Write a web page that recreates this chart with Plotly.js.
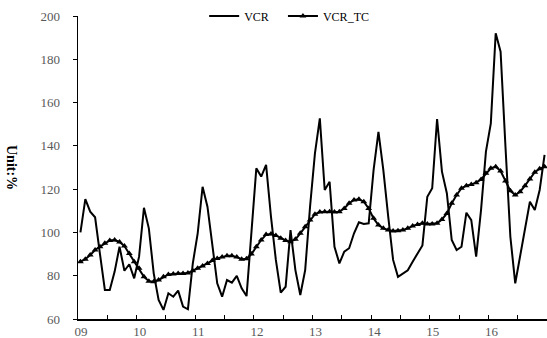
<!DOCTYPE html>
<html>
<head>
<meta charset="utf-8">
<script src="https://cdn.plot.ly/plotly-3.0.1.min.js"></script>
<style>html,body{margin:0;padding:0;background:#fff;}#chart{width:547px;height:338px;}</style>
</head>
<body>
<div id="chart"></div>
<script>
// Monthly observations, Jan 2009 .. Dec 2016
var yearLabels = ['09','10','11','12','13','14','15','16'];
var seriesNames = ['VCR', 'VCR_TC'];

var vcr = [
  100, 115.4, 109.6, 107, 90, 73.4, 73.4, 81.9, 93.4, 82.3, 85.3, 78.8,
  88.8, 111.4, 101.9, 81.1, 68.8, 64.2, 71.9, 70.3, 73.1, 65.7, 64.5, 85.7,
  99.6, 121.1, 111.9, 93.4, 76.5, 70.3, 78, 76.8, 79.9, 74.2, 70.6, 100,
  129.6, 125.8, 131.2, 107.3, 87.3, 72.2, 74.9, 101.1, 82.6, 71.1, 82.6, 111.9,
  136.5, 152.7, 119.6, 123.4, 93.4, 85.7, 91.1, 92.7, 99.6, 104.7, 103.9, 104.2,
  128.8, 146.5, 128.8, 107.3, 87.3, 79.5, 81, 82.5, 86.5, 90.5, 94, 116.5,
  120.4, 152.4, 128.1, 118.1, 96.5, 91.9, 93.4, 109.1, 105.7, 88.8, 110.4, 137.3,
  150.4, 192, 183.5, 139.6, 98, 76.5, 89.6, 102.6, 114.2, 110.4, 119.6, 135.8
];

var vcrTC = [
  86.5, 87.6, 89.6, 91.9, 93.4, 95, 96.3, 96.5, 95.6, 93.7, 90.3, 86.5,
  83.4, 79.5, 77.5, 77.2, 78, 79.5, 80.6, 80.8, 81, 81, 81.2, 82.3,
  83.4, 84.5, 85.7, 87, 88, 88.6, 89.2, 89.2, 88.6, 87.6, 87.8, 90,
  93.4, 96.5, 99, 99.3, 98.6, 97.3, 96.3, 95.7, 96.8, 99.6, 102.6, 105.7,
  108.4, 109.4, 109.6, 109.6, 109.4, 109.6, 111.1, 113.5, 115, 115.3, 114.2, 111.1,
  106.5, 103.4, 101.9, 101.1, 100.7, 100.8, 101.1, 101.9, 103, 103.7, 104.2, 103.9,
  103.9, 104.2, 106, 108.8, 113.5, 117.3, 120.4, 121.6, 122.2, 123, 124.5, 127.3,
  129.6, 130.4, 128.4, 123.8, 119.2, 117.3, 118.8, 121.6, 124.7, 127.8, 129.4, 130.4
];

var monthIndex = vcr.map(function(_, i){ return i; });
var yearTicks = yearLabels.map(function(_, k){ return k*12 - 0.5; });

var traces = [
  {x: monthIndex, y: vcr, name: seriesNames[0], type: 'scatter', mode: 'lines',
   line: {color: '#000', width: 2}, legend: 'legend'},
  {x: monthIndex, y: vcrTC, name: seriesNames[1], type: 'scatter', mode: 'lines+markers',
   line: {color: '#000', width: 2},
   marker: {symbol: 'triangle-up', size: 6, color: '#000'}, legend: 'legend2'}
];

var tickFont = {family: 'Liberation Serif, serif', size: 13, color: '#595959'};
var legendFont = {family: 'Liberation Serif, serif', size: 12, color: '#000'};

var layout = {
  width: 547, height: 338,
  margin: {l: 78, r: 0, t: 16, b: 19, pad: 0},
  paper_bgcolor: '#fff', plot_bgcolor: '#fff',
  showlegend: true,
  legend: {orientation: 'h', x: 0.269, xanchor: 'left', y: 1.0, yanchor: 'middle',
    font: legendFont, bgcolor: 'rgba(0,0,0,0)', itemclick: false},
  legend2: {orientation: 'h', x: 0.437, xanchor: 'left', y: 1.0, yanchor: 'middle',
    font: legendFont, bgcolor: 'rgba(0,0,0,0)', itemclick: false},
  xaxis: {range: [-0.5, 95.5], tickmode: 'array', tickvals: yearTicks, ticktext: yearLabels,
    showgrid: false, zeroline: false, showline: true, linecolor: '#000', linewidth: 1.5,
    ticks: 'inside', ticklen: 4, tickwidth: 1, tickcolor: '#000',
    tickfont: tickFont, ticklabelshift: 3, ticklabelstandoff: 0,
    minor: {tickmode: 'array', tickvals: yearTicks.map(function(v){return v+6;}), ticks: 'inside', ticklen: 4, tickcolor: '#000'}},
  yaxis: {range: [60, 200], dtick: 20, tick0: 60,
    showgrid: false, zeroline: false, showline: true, linecolor: '#000', linewidth: 1.5,
    ticks: 'outside', ticklen: 4, tickwidth: 1, tickcolor: '#000',
    tickfont: tickFont, ticklabelstandoff: 10},
  annotations: [{text: '<b>Unit:%</b>', textangle: 90, xref: 'paper', yref: 'paper',
    x: (12 - 78) / 469, y: (319 - 167) / 303, xanchor: 'center', yanchor: 'middle', showarrow: false,
    font: {family: 'Liberation Serif, serif', size: 14, color: '#000'}}]
};

Plotly.newPlot('chart', traces, layout, {displayModeBar: false, staticPlot: true});
</script>
</body>
</html>
